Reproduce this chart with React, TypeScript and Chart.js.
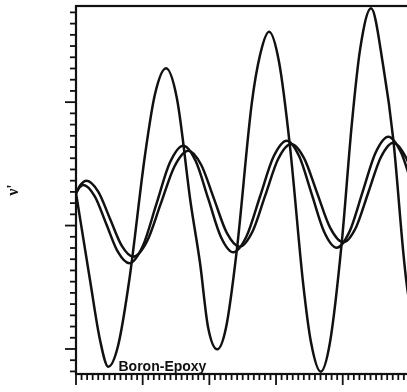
import React, { useEffect, useRef } from "react";
import { Chart, registerables } from "chart.js";

Chart.register(...registerables);

// x in minor-tick units (12 minor ticks per major), y in minor-tick units (majors at 0, 11, 22)
const boronX = [0, 2.52, 4.32, 5.81, 7.56, 9.59, 12.42, 14.22, 16.2, 18.18, 20.64, 22.32, 23.76, 25.43, 27.0, 28.92, 31.62, 33.12, 34.74, 36.54, 38.52, 40.86, 42.3, 44.04, 45.72, 47.82, 49.62, 51.12, 53.1, 55.31, 57.11, 58.86, 59.49, 60.5];
const boronY = [13.9, 6.15, 0.8, -1.58, 0.27, 6.15, 17.29, 22.73, 25.02, 22.28, 13.01, 7.66, 1.96, -0.03, 1.91, 8.73, 21.84, 26.2, 28.28, 25.58, 18.0, 5.92, 0.57, -2.02, 0.62, 9.45, 19.96, 26.68, 30.37, 25.16, 18.63, 8.82, 5.88, 2.5];

const leadX = [0, 0.63, 1.31, 3.38, 5.45, 7.52, 9.59, 12.02, 14.45, 16.88, 19.31, 21.56, 23.81, 26.06, 28.31, 30.71, 33.12, 35.52, 37.92, 40.17, 42.42, 44.67, 46.92, 49.24, 51.57, 53.89, 56.21, 58.5, 60.12];
const leadY = [13.88, 14.39, 14.62, 13.61, 11.14, 8.67, 7.64, 9.17, 12.88, 16.59, 18.12, 16.73, 13.37, 10.01, 8.62, 10.07, 13.59, 17.11, 18.57, 17.17, 13.8, 10.43, 9.03, 10.48, 13.98, 17.47, 18.92, 17.51, 15.21];

const lagX = [0, 0.72, 1.93, 4.02, 6.12, 8.22, 10.31, 12.79, 15.26, 17.74, 20.21, 22.52, 24.82, 27.12, 29.43, 31.75, 34.06, 36.38, 38.7, 41.06, 43.4, 45.75, 48.11, 50.36, 52.61, 54.86, 57.11, 59.36, 60.84];
const lagY = [13.88, 14.57, 15.0, 14.01, 11.61, 9.22, 8.23, 9.61, 12.95, 16.29, 17.67, 16.42, 13.4, 10.37, 9.12, 10.45, 13.69, 16.93, 18.27, 16.99, 13.89, 10.79, 9.51, 10.81, 13.95, 17.09, 18.39, 17.09, 15.17];

const xMin = 0;
const xMax = 60;
const yMin = -2.23;
const yMax = 30.57;
const xMajorEvery = 12;
const yMajorValues = [0, 11, 22];
const yTitle = "ν'";
const curveLabel = "Boron-Epoxy";
const curveLabelAt = [7.65, -1.96];

const toPoints = (xs: number[], ys: number[]) => xs.map((x, i) => ({ x, y: ys[i] }));

const framePlugin = {
  id: "frameTicks",
  afterDraw(chart: any) {
    const { ctx, chartArea: a, scales } = chart;
    const x = scales.x;
    const y = scales.y;
    ctx.save();
    ctx.strokeStyle = "#111";
    ctx.lineWidth = 2.2;
    ctx.strokeRect(a.left, a.top, a.right - a.left, a.bottom - a.top);
    ctx.lineWidth = 1.8;
    for (let v = Math.ceil(xMin); v <= xMax; v++) {
      const px = x.getPixelForValue(v);
      const len = v % xMajorEvery === 0 ? 11 : 6;
      ctx.beginPath();
      ctx.moveTo(px, a.bottom);
      ctx.lineTo(px, a.bottom + len);
      ctx.stroke();
    }
    for (let v = Math.ceil(yMin); v <= Math.floor(yMax); v++) {
      const py = y.getPixelForValue(v);
      const len = yMajorValues.includes(v) ? 11 : 6;
      ctx.beginPath();
      ctx.moveTo(a.left, py);
      ctx.lineTo(a.left - len, py);
      ctx.stroke();
    }
    ctx.fillStyle = "#111";
    ctx.font = "bold 14px 'Liberation Sans', Arial, sans-serif";
    ctx.textBaseline = "alphabetic";
    ctx.textAlign = "left";
    ctx.fillText(curveLabel, x.getPixelForValue(curveLabelAt[0]), y.getPixelForValue(curveLabelAt[1]));
    ctx.restore();
  },
};

export default function App() {
  const ref = useRef<HTMLCanvasElement | null>(null);
  useEffect(() => {
    if (!ref.current) return;
    const lineStyle = {
      borderColor: "#111",
      borderWidth: 2.5,
      pointRadius: 0,
      fill: false,
      cubicInterpolationMode: "monotone" as const,
    };
    const chart = new Chart(ref.current, {
      type: "line",
      data: {
        datasets: [
          { label: "Boron-Epoxy", data: toPoints(boronX, boronY), ...lineStyle },
          { label: "A", data: toPoints(leadX, leadY), ...lineStyle },
          { label: "B", data: toPoints(lagX, lagY), ...lineStyle },
        ],
      },
      options: {
        animation: false,
        responsive: false,
        parsing: false as any,
        layout: { padding: { left: 0, right: 20.6, top: 6, bottom: 0 } },
        plugins: { legend: { display: false }, tooltip: { enabled: false } },
        scales: {
          x: {
            type: "linear",
            min: xMin,
            max: xMax,
            ticks: { display: false },
            grid: { display: false },
            border: { display: false },
            afterFit: (s: any) => {
              s.height = 18;
            },
          },
          y: {
            type: "linear",
            min: yMin,
            max: yMax,
            ticks: { display: false },
            grid: { display: false },
            border: { display: false },
            title: {
              display: true,
              text: yTitle,
              color: "#111",
              font: { size: 16, weight: "bold", family: "'Liberation Serif', serif" },
            },
            afterFit: (s: any) => {
              s.width = 76;
            },
          },
        },
      },
      plugins: [framePlugin],
    });
    return () => chart.destroy();
  }, []);
  return (
    <div style={{ position: "fixed", left: 0, top: 0, width: 407, height: 392, overflow: "hidden", background: "#fff" }}>
      <canvas ref={ref} width={430} height={392} style={{ display: "block" }} />
    </div>
  );
}
